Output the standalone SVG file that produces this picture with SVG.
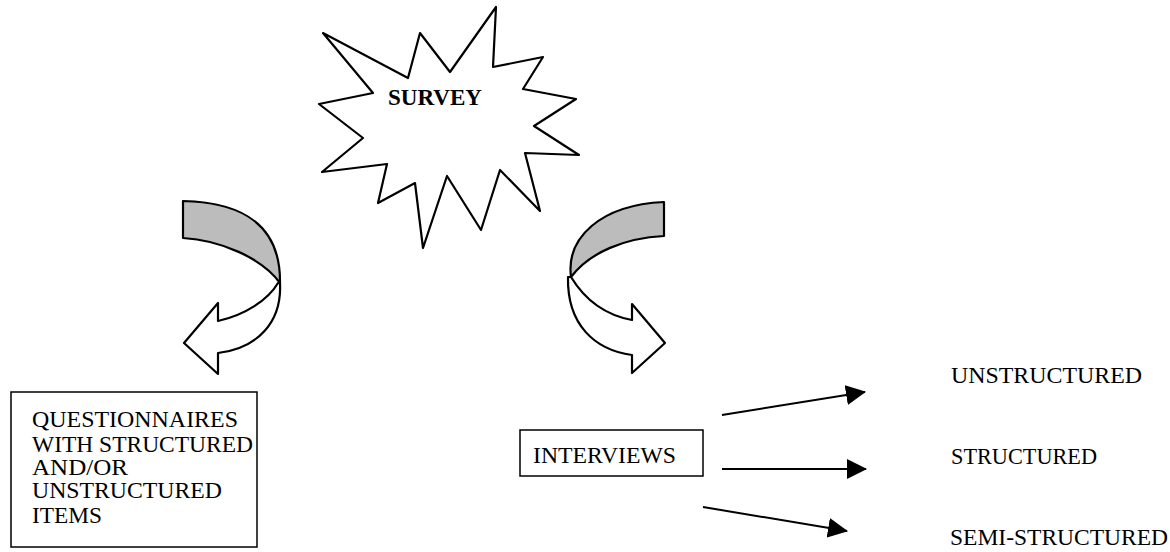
<svg xmlns="http://www.w3.org/2000/svg" width="1170" height="552" viewBox="0 0 1170 552">
<style>
.txt{font-family:"Liberation Serif","Times New Roman","DejaVu Serif",serif;font-size:23px;fill:#000}
.box{fill:#fff;stroke:#000;stroke-width:1.5}
.ol{stroke:#000;stroke-width:2.2;stroke-linejoin:round}
.shade{fill:#bcbcbc}
.white{fill:#fff}
.conn{stroke:#000;stroke-width:2;fill:none}
</style>
<defs>
<marker id="ah" markerUnits="userSpaceOnUse" markerWidth="20" markerHeight="20" viewBox="0 0 20 20" refX="19" refY="10" orient="auto">
<path d="M0,0 L20,10 L0,20 Z" fill="#000"/>
</marker>
</defs>
<rect width="1170" height="552" fill="#fff"/>

<g id="survey">
<polygon class="ol" fill="#fff" points="323,33 408,78 420,33 450,72 496,7 493,67 543,57 523,89 576,99 534,126 579,155 525,153 540,211 500,170 481,230 447,176 423,248 415,183 378,203 387,164 322,172 363,138 319,104 373,93"/>
<text class="txt" x="388" y="105" font-weight="bold" font-size="22" textLength="94" lengthAdjust="spacingAndGlyphs">SURVEY</text>
</g>

<g id="arrow-left">
<path class="ol shade" d="M183,201 C225,202 281,213 280,283 C262,258 220,240 183,238 Z"/>
<path class="ol white" d="M280,283 C282,322 258,348 218,353 L218,374 L184,343 L218,303 L218,321 C245,315 268,300 278,283 Z"/>
</g>

<g id="arrow-right">
<path class="ol shade" d="M664,202 L664,236 C625,238 590,252 571,277 C566,238 600,205 664,202 Z"/>
<path class="ol white" d="M571,277 C585,300 605,315 632,320 L632,304 L665,343 L632,373 L632,355 C595,350 567,325 568,277 Z"/>
</g>

<g id="questionnaires">
<rect class="box" x="11" y="392" width="246" height="155"/>
<text class="txt" x="32" y="427" textLength="206" lengthAdjust="spacingAndGlyphs">QUESTIONNAIRES</text>
<text class="txt" x="32" y="452" textLength="221" lengthAdjust="spacingAndGlyphs">WITH STRUCTURED</text>
<text class="txt" x="32" y="475" textLength="96" lengthAdjust="spacingAndGlyphs">AND/OR</text>
<text class="txt" x="32" y="498" textLength="190" lengthAdjust="spacingAndGlyphs">UNSTRUCTURED</text>
<text class="txt" x="32" y="523" textLength="70" lengthAdjust="spacingAndGlyphs">ITEMS</text>
</g>

<g id="interviews">
<rect class="box" x="520" y="430" width="183" height="46"/>
<text class="txt" x="533" y="463" textLength="143" lengthAdjust="spacingAndGlyphs">INTERVIEWS</text>
</g>

<g id="unstructured">
<text class="txt" x="951" y="383" textLength="191" lengthAdjust="spacingAndGlyphs">UNSTRUCTURED</text>
</g>
<g id="structured">
<text class="txt" x="951" y="464" textLength="146" lengthAdjust="spacingAndGlyphs">STRUCTURED</text>
</g>
<g id="semi-structured">
<text class="txt" x="950" y="545" textLength="218" lengthAdjust="spacingAndGlyphs">SEMI-STRUCTURED</text>
</g>

<g id="connectors">
<line class="conn" x1="722" y1="415" x2="865" y2="392" marker-end="url(#ah)"/>
<line class="conn" x1="722" y1="469" x2="866" y2="469" marker-end="url(#ah)"/>
<line class="conn" x1="703" y1="507" x2="847" y2="531" marker-end="url(#ah)"/>
</g>
</svg>
